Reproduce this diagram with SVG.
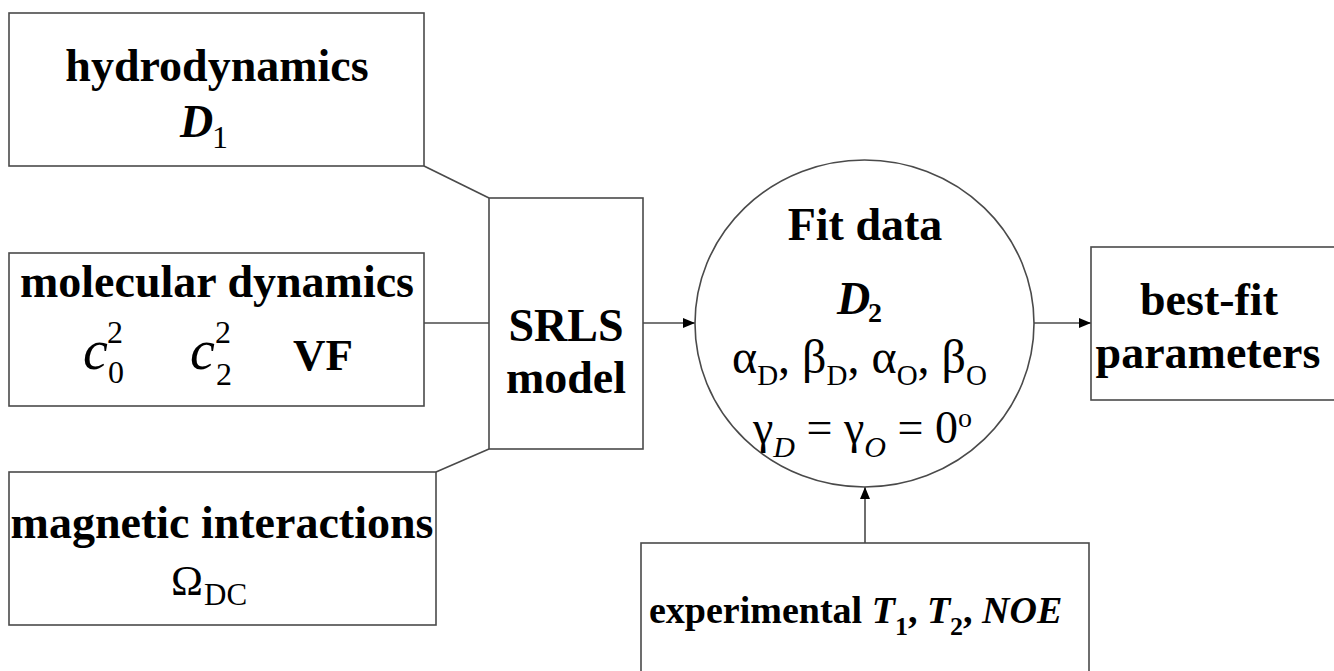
<svg xmlns="http://www.w3.org/2000/svg" width="1334" height="671" viewBox="0 0 1334 671">
<defs>
<style>
.box{fill:#fff;stroke:#4a4a4a;stroke-width:1.6}
.ln{fill:none;stroke:#4a4a4a;stroke-width:1.6}
.t{font-family:"Liberation Serif","Times New Roman",serif;fill:#000}
.b{font-weight:bold}
.i{font-style:italic}
</style>
<marker id="ah" viewBox="0 0 12 10" refX="12" refY="5" markerWidth="12" markerHeight="10" markerUnits="userSpaceOnUse" orient="auto">
<path d="M0,0 L12,5 L0,10 Z" fill="#000"/>
</marker>
</defs>
<rect width="1334" height="671" fill="#fff"/>
<g id="connectors">
<line class="ln" x1="424" y1="166" x2="489" y2="198"/>
<line class="ln" x1="424" y1="323" x2="489" y2="323"/>
<line class="ln" x1="436" y1="472" x2="489" y2="449"/>
<line class="ln" x1="643" y1="323" x2="695" y2="323" marker-end="url(#ah)"/>
<line class="ln" x1="1034" y1="323" x2="1091" y2="323" marker-end="url(#ah)"/>
<line class="ln" x1="865" y1="543" x2="865" y2="487" marker-end="url(#ah)"/>
</g>
<g id="hydrodynamics">
<rect class="box" x="9" y="13" width="415" height="153"/>
<text class="t b" x="217" y="81" font-size="46" text-anchor="middle">hydrodynamics</text>
<text class="t b i" x="180" y="137" font-size="46">D</text>
<text class="t" x="212" y="148" font-size="32">1</text>
</g>
<g id="molecular-dynamics">
<rect class="box" x="9" y="253" width="415" height="153"/>
<text class="t b" x="217" y="297" font-size="46" text-anchor="middle">molecular dynamics</text>
<text class="t i" x="83" y="369" font-size="56">c</text>
<text class="t" x="107" y="343" font-size="32">2</text>
<text class="t" x="108" y="383" font-size="32">0</text>
<text class="t i" x="190" y="369" font-size="56">c</text>
<text class="t" x="215" y="343" font-size="32">2</text>
<text class="t" x="216" y="385" font-size="32">2</text>
<text class="t b" x="293" y="370" font-size="45">VF</text>
</g>
<g id="magnetic-interactions">
<rect class="box" x="9" y="472" width="427" height="153"/>
<text class="t b" x="222" y="538" font-size="46" text-anchor="middle">magnetic interactions</text>
<text class="t" x="171" y="595" font-size="43">Ω</text>
<text class="t" x="204" y="605" font-size="31">DC</text>
</g>
<g id="srls-model">
<rect class="box" x="489" y="198" width="154" height="251"/>
<text class="t b" x="566" y="341" font-size="46" text-anchor="middle">SRLS</text>
<text class="t b" x="566" y="393" font-size="46" text-anchor="middle">model</text>
</g>
<g id="fit-data">
<ellipse class="box" cx="864.5" cy="323.5" rx="169.5" ry="163.5"/>
<text class="t b" x="865" y="240" font-size="46" text-anchor="middle">Fit data</text>
<text class="t b i" x="837" y="314" font-size="46">D</text>
<text class="t b" x="868" y="322" font-size="28">2</text>
<text class="t" x="732" y="373" font-size="48">α<tspan font-size="29" dy="12">D</tspan><tspan dy="-12">, β</tspan><tspan font-size="29" dy="12">D</tspan><tspan dy="-12">, α</tspan><tspan font-size="29" dy="12">O</tspan><tspan dy="-12">, β</tspan><tspan font-size="29" dy="12">O</tspan></text>
<text class="t" x="753" y="443" font-size="46">γ<tspan class="i" font-size="30" dy="14">D</tspan><tspan dy="-14"> = γ</tspan><tspan class="i" font-size="30" dy="14">O</tspan><tspan dy="-14"> = 0</tspan><tspan font-size="28" dy="-16">o</tspan></text>
</g>
<g id="best-fit-parameters">
<rect class="box" x="1091" y="247" width="260" height="153"/>
<text class="t b" x="1209" y="315" font-size="46" text-anchor="middle">best-fit</text>
<text class="t b" x="1208" y="368" font-size="46" text-anchor="middle">parameters</text>
</g>
<g id="experimental">
<rect class="box" x="641" y="543" width="448" height="150"/>
<text class="t b" x="649" y="623" font-size="38">experimental <tspan class="i">T</tspan><tspan font-size="26" dy="12">1</tspan><tspan dy="-12">, </tspan><tspan class="i">T</tspan><tspan font-size="26" dy="12">2</tspan><tspan dy="-12">, </tspan><tspan class="i">NOE</tspan></text>
</g>
</svg>
